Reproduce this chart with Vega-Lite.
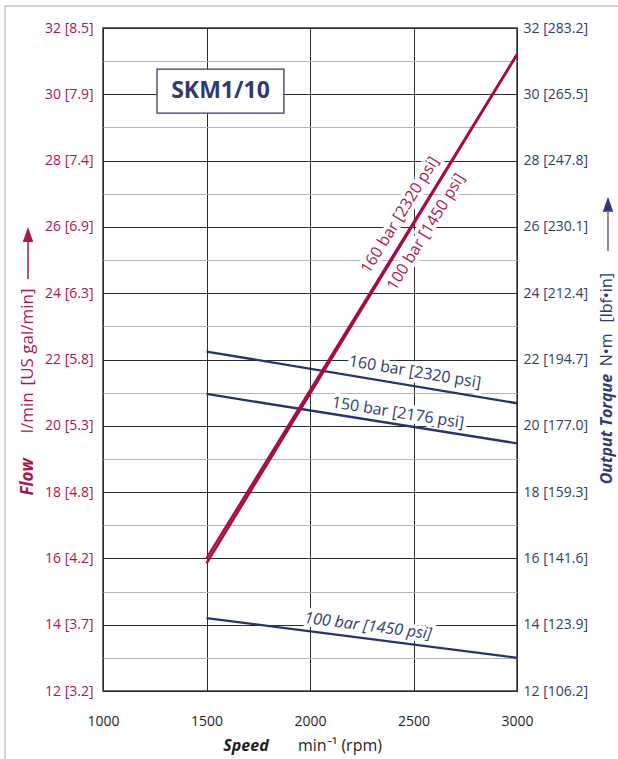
{
  "$schema": "https://vega.github.io/schema/vega-lite/v6.json",
  "width": 414,
  "height": 663,
  "autosize": {"type": "none"},
  "padding": {"left": 103, "top": 28, "right": 101, "bottom": 68},
  "background": "white",
  "config": {
    "view": {"stroke": "#3c3c3c", "strokeWidth": 1.5},
    "font": "Open Sans",
    "text": {"font": "Open Sans"}
  },
  "datasets": {
    "curves": [
      {"series": "flow160", "rpm": 1500, "value": 16.0},
      {"series": "flow160", "rpm": 3000, "value": 31.2},
      {"series": "flow100", "rpm": 1500, "value": 15.85},
      {"series": "flow100", "rpm": 3000, "value": 31.2},
      {"series": "torque160", "rpm": 1500, "value": 22.24},
      {"series": "torque160", "rpm": 3000, "value": 20.68},
      {"series": "torque150", "rpm": 1500, "value": 20.96},
      {"series": "torque150", "rpm": 3000, "value": 19.47},
      {"series": "torque100", "rpm": 1500, "value": 14.2},
      {"series": "torque100", "rpm": 3000, "value": 13.0}
    ],
    "labels": [
      {"series": "flow160", "text": "160 bar [2320 psi]", "rpm": 2435, "value": 26.36},
      {"series": "flow100", "text": "100 bar [1450 psi]", "rpm": 2560, "value": 25.85},
      {"series": "torque160", "text": "160 bar [2320 psi]", "rpm": 2507, "value": 21.62},
      {"series": "torque150", "text": "150 bar [2176 psi]", "rpm": 2425, "value": 20.39},
      {"series": "torque100", "text": "100 bar [1450 psi]", "rpm": 2280, "value": 13.96}
    ],
    "one": [{}]
  },
  "resolve": {"axis": {"x": "independent", "y": "independent"}},
  "layer": [
    {
      "data": {"name": "curves"},
      "transform": [{"filter": "indexof(datum.series, 'torque') === 0"}],
      "mark": {"type": "line", "strokeOpacity": 0},
      "encoding": {
        "x": {
          "field": "rpm", "type": "quantitative",
          "scale": {"domain": [1000, 3000], "nice": false, "zero": false},
          "axis": {
            "orient": "bottom",
            "values": [1000, 1500, 2000, 2500, 3000],
            "format": "d",
            "grid": true, "gridColor": "#2b2b2b", "gridWidth": 1,
            "ticks": false, "domain": false, "title": null,
            "labelPadding": 23, "labelColor": "#1e1e1e", "labelFont": "Open Sans", "labelFontSize": 14,
            "labelFlush": false, "labelOverlap": false, "labelBound": false
          }
        },
        "y": {
          "field": "value", "type": "quantitative",
          "scale": {"domain": [12, 32], "nice": false, "zero": false},
          "axis": {
            "orient": "left",
            "values": [12, 13, 14, 15, 16, 17, 18, 19, 20, 21, 22, 23, 24, 25, 26, 27, 28, 29, 30, 31, 32],
            "grid": true,
            "gridColor": {"condition": {"test": "datum.value % 2 === 0", "value": "#2b2b2b"}, "value": "#b4b4b4"},
            "gridWidth": 1,
            "ticks": false, "domain": false, "title": null,
            "labelPadding": 10, "labelColor": "#a8164e", "labelFont": "Open Sans", "labelFontSize": 14,
            "labelFlush": false, "labelOverlap": false, "labelBound": false,
            "labelExpr": "datum.value % 2 === 0 ? datum.value + ' [' + format(datum.value * 0.264172, '.1f') + ']' : ''"
          }
        },
        "detail": {"field": "series"}
      }
    },
    {
      "data": {"name": "one"},
      "mark": {"type": "rect", "fill": null, "stroke": "#c8c8c8", "strokeWidth": 1.5},
      "encoding": {
        "x": {"datum": 526.6, "type": "quantitative", "axis": null},
        "x2": {"datum": 3700},
        "y": {"datum": 32.66, "type": "quantitative", "axis": null},
        "y2": {"datum": 8.5}
      }
    },
    {
      "data": {"name": "one"},
      "mark": {"type": "rect", "fill": "white", "stroke": "#2f3b6e", "strokeWidth": 1.3},
      "encoding": {
        "x": {"datum": 1261, "type": "quantitative", "axis": null},
        "x2": {"datum": 1874},
        "y": {"datum": 30.76, "type": "quantitative", "axis": null},
        "y2": {"datum": 29.43}
      }
    },
    {
      "data": {"name": "one"},
      "mark": {"type": "text", "text": "SKM1/10", "fontSize": 23, "fontWeight": "bold", "color": "#2f3b6e", "align": "center", "baseline": "middle"},
      "encoding": {
        "x": {"datum": 1567.6, "type": "quantitative", "axis": null},
        "y": {"datum": 30.1, "type": "quantitative", "axis": null}
      }
    },
    {
      "data": {"name": "labels"},
      "transform": [{"filter": "datum.series === 'torque160'"}],
      "mark": {"type": "text", "angle": 9.45, "fontSize": 16, "align": "center", "baseline": "middle", "fill": "white", "stroke": "white", "strokeWidth": 8, "strokeJoin": "round"},
      "encoding": {"x": {"field": "rpm", "type": "quantitative", "axis": null}, "y": {"field": "value", "type": "quantitative", "axis": null}, "text": {"field": "text"}}
    },
    {
      "data": {"name": "labels"},
      "transform": [{"filter": "datum.series === 'torque150'"}],
      "mark": {"type": "text", "angle": 9.04, "fontSize": 16, "align": "center", "baseline": "middle", "fill": "white", "stroke": "white", "strokeWidth": 8, "strokeJoin": "round"},
      "encoding": {"x": {"field": "rpm", "type": "quantitative", "axis": null}, "y": {"field": "value", "type": "quantitative", "axis": null}, "text": {"field": "text"}}
    },
    {
      "data": {"name": "labels"},
      "transform": [{"filter": "datum.series === 'torque100'"}],
      "mark": {"type": "text", "angle": 7.3, "fontSize": 16, "fontStyle": "italic", "align": "center", "baseline": "middle", "fill": "white", "stroke": "white", "strokeWidth": 8, "strokeJoin": "round"},
      "encoding": {"x": {"field": "rpm", "type": "quantitative", "axis": null}, "y": {"field": "value", "type": "quantitative", "axis": null}, "text": {"field": "text"}}
    },
    {
      "data": {"name": "labels"},
      "transform": [{"filter": "datum.series === 'flow160' || datum.series === 'flow100'"}],
      "mark": {"type": "text", "angle": 301.6, "fontSize": 16, "align": "center", "baseline": "middle", "fill": "white", "stroke": "white", "strokeWidth": 8, "strokeJoin": "round"},
      "encoding": {"x": {"field": "rpm", "type": "quantitative", "axis": null}, "y": {"field": "value", "type": "quantitative", "axis": null}, "text": {"field": "text"}}
    },
    {
      "data": {"name": "curves"},
      "transform": [{"filter": "indexof(datum.series, 'torque') === 0"}],
      "mark": {"type": "line", "color": "#27336b", "strokeWidth": 2.3},
      "encoding": {
        "x": {"field": "rpm", "type": "quantitative", "axis": null},
        "y": {"field": "value", "type": "quantitative", "axis": null},
        "detail": {"field": "series"}
      }
    },
    {
      "data": {"name": "curves"},
      "transform": [{"filter": "indexof(datum.series, 'flow') === 0"}],
      "mark": {"type": "line", "color": "#a50b45", "strokeWidth": 2.5, "strokeCap": "butt"},
      "encoding": {
        "x": {"field": "rpm", "type": "quantitative", "axis": null},
        "y": {
          "field": "value", "type": "quantitative",
          "axis": {
            "orient": "right",
            "values": [12, 14, 16, 18, 20, 22, 24, 26, 28, 30, 32],
            "grid": false, "ticks": false, "domain": false, "title": null,
            "labelPadding": 6, "labelColor": "#2f3b6e", "labelFont": "Open Sans", "labelFontSize": 14,
            "labelFlush": false, "labelOverlap": false, "labelBound": false,
            "labelExpr": "datum.value + ' [' + format(datum.value * 8.85075, '.1f') + ']'"
          }
        },
        "detail": {"field": "series"}
      }
    },
    {
      "data": {"name": "labels"},
      "transform": [{"filter": "datum.series === 'torque160'"}],
      "mark": {"type": "text", "angle": 9.45, "fontSize": 16, "align": "center", "baseline": "middle", "color": "#2f3b6e"},
      "encoding": {"x": {"field": "rpm", "type": "quantitative", "axis": null}, "y": {"field": "value", "type": "quantitative", "axis": null}, "text": {"field": "text"}}
    },
    {
      "data": {"name": "labels"},
      "transform": [{"filter": "datum.series === 'torque150'"}],
      "mark": {"type": "text", "angle": 9.04, "fontSize": 16, "align": "center", "baseline": "middle", "color": "#2f3b6e"},
      "encoding": {"x": {"field": "rpm", "type": "quantitative", "axis": null}, "y": {"field": "value", "type": "quantitative", "axis": null}, "text": {"field": "text"}}
    },
    {
      "data": {"name": "labels"},
      "transform": [{"filter": "datum.series === 'torque100'"}],
      "mark": {"type": "text", "angle": 7.3, "fontSize": 16, "fontStyle": "italic", "align": "center", "baseline": "middle", "color": "#2f3b6e"},
      "encoding": {"x": {"field": "rpm", "type": "quantitative", "axis": null}, "y": {"field": "value", "type": "quantitative", "axis": null}, "text": {"field": "text"}}
    },
    {
      "data": {"name": "labels"},
      "transform": [{"filter": "datum.series === 'flow160' || datum.series === 'flow100'"}],
      "mark": {"type": "text", "angle": 301.6, "fontSize": 16, "align": "center", "baseline": "middle", "color": "#a8164e"},
      "encoding": {"x": {"field": "rpm", "type": "quantitative", "axis": null}, "y": {"field": "value", "type": "quantitative", "axis": null}, "text": {"field": "text"}}
    },
    {
      "data": {"name": "one"},
      "mark": {"type": "text", "text": "Flow", "angle": 270, "fontSize": 17, "fontWeight": "bold", "fontStyle": "italic", "color": "#a8164e", "align": "center", "baseline": "middle"},
      "encoding": {"x": {"datum": 637.7, "type": "quantitative", "axis": null}, "y": {"datum": 18.46, "type": "quantitative", "axis": null}}
    },
    {
      "data": {"name": "one"},
      "mark": {"type": "text", "text": "l/min", "angle": 270, "fontSize": 17, "color": "#a8164e", "align": "center", "baseline": "middle"},
      "encoding": {"x": {"datum": 637.7, "type": "quantitative", "axis": null}, "y": {"datum": 20.39, "type": "quantitative", "axis": null}}
    },
    {
      "data": {"name": "one"},
      "mark": {"type": "text", "text": "[US gal/min]", "angle": 270, "fontSize": 17, "color": "#a8164e", "align": "center", "baseline": "middle"},
      "encoding": {"x": {"datum": 637.7, "type": "quantitative", "axis": null}, "y": {"datum": 22.68, "type": "quantitative", "axis": null}}
    },
    {
      "data": {"name": "one"},
      "mark": {"type": "rule", "color": "#a8164e", "strokeWidth": 1.5},
      "encoding": {"x": {"datum": 637.7, "type": "quantitative", "axis": null}, "y": {"datum": 24.43, "type": "quantitative", "axis": null}, "y2": {"datum": 25.6}}
    },
    {
      "data": {"name": "one"},
      "mark": {"type": "point", "shape": "M-0.7,1L0,-1L0.7,1Z", "filled": true, "size": 225, "color": "#a8164e", "opacity": 1},
      "encoding": {"x": {"datum": 637.7, "type": "quantitative", "axis": null}, "y": {"datum": 25.77, "type": "quantitative", "axis": null}}
    },
    {
      "data": {"name": "one"},
      "mark": {"type": "text", "text": "Output Torque", "angle": 270, "fontSize": 16, "fontWeight": "bold", "fontStyle": "italic", "color": "#2f3b6e", "align": "center", "baseline": "middle"},
      "encoding": {"x": {"datum": 3434.8, "type": "quantitative", "axis": null}, "y": {"datum": 19.9, "type": "quantitative", "axis": null}}
    },
    {
      "data": {"name": "one"},
      "mark": {"type": "text", "text": "N•m", "angle": 270, "fontSize": 16, "color": "#2f3b6e", "align": "center", "baseline": "middle"},
      "encoding": {"x": {"datum": 3434.8, "type": "quantitative", "axis": null}, "y": {"datum": 22.29, "type": "quantitative", "axis": null}}
    },
    {
      "data": {"name": "one"},
      "mark": {"type": "text", "text": "[lbf•in]", "angle": 270, "fontSize": 16, "color": "#2f3b6e", "align": "center", "baseline": "middle"},
      "encoding": {"x": {"datum": 3434.8, "type": "quantitative", "axis": null}, "y": {"datum": 23.86, "type": "quantitative", "axis": null}}
    },
    {
      "data": {"name": "one"},
      "mark": {"type": "rule", "color": "#7a5a8a", "strokeWidth": 1.5},
      "encoding": {"x": {"datum": 3439.6, "type": "quantitative", "axis": null}, "y": {"datum": 25.27, "type": "quantitative", "axis": null}, "y2": {"datum": 26.45}}
    },
    {
      "data": {"name": "one"},
      "mark": {"type": "point", "shape": "M-0.7,1L0,-1L0.7,1Z", "filled": true, "size": 225, "color": "#2f3b6e", "opacity": 1},
      "encoding": {"x": {"datum": 3439.6, "type": "quantitative", "axis": null}, "y": {"datum": 26.68, "type": "quantitative", "axis": null}}
    },
    {
      "data": {"name": "one"},
      "mark": {"type": "text", "text": "Speed", "fontSize": 16, "fontWeight": "bold", "fontStyle": "italic", "color": "#1e1e1e", "align": "center", "baseline": "middle"},
      "encoding": {"x": {"datum": 1690.8, "type": "quantitative", "axis": null}, "y": {"datum": 10.34, "type": "quantitative", "axis": null}}
    },
    {
      "data": {"name": "one"},
      "mark": {"type": "text", "text": "min⁻¹ (rpm)", "fontSize": 16, "color": "#1e1e1e", "align": "center", "baseline": "middle"},
      "encoding": {"x": {"datum": 2144.9, "type": "quantitative", "axis": null}, "y": {"datum": 10.34, "type": "quantitative", "axis": null}}
    }
  ]
}
